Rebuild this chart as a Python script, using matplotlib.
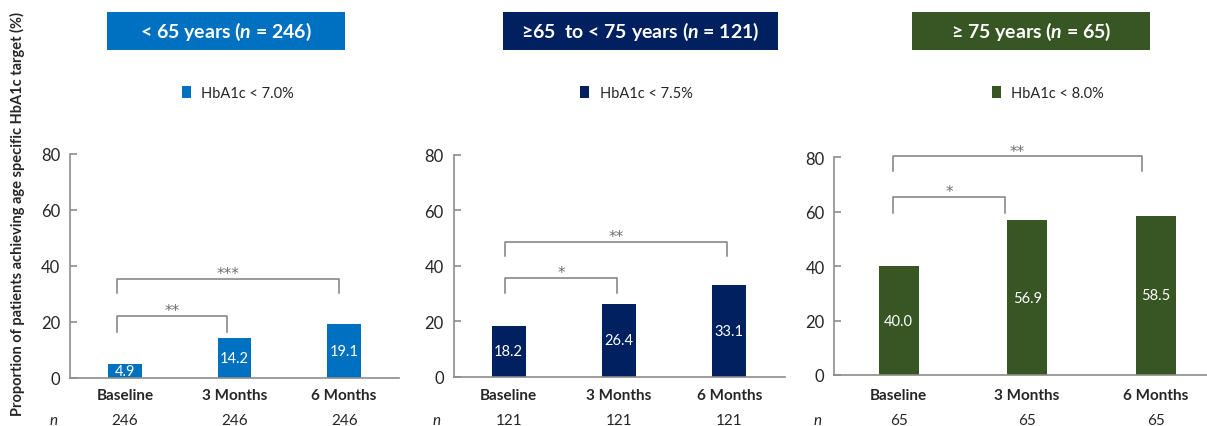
import matplotlib
matplotlib.use("Agg")
import matplotlib.pyplot as plt
import matplotlib.transforms as mtransforms
from matplotlib.patches import Rectangle

plt.rcParams["font.family"] = ["Lato", "DejaVu Sans"]
plt.rcParams["mathtext.fontset"] = "custom"
plt.rcParams["mathtext.rm"] = "Lato:bold"
plt.rcParams["mathtext.bf"] = "Lato:bold"
plt.rcParams["mathtext.it"] = "Lato:italic:bold"

# ---- data -------------------------------------------------------------
timepoints = ["Baseline", "3 Months", "6 Months"]

group_titles = [
    r"< 65 years ($\mathit{n}$ = 246)",
    r"≥65  to < 75 years ($\mathit{n}$ = 121)",
    r"≥ 75 years ($\mathit{n}$ = 65)",
]
target_labels = ["HbA1c < 7.0%", "HbA1c < 7.5%", "HbA1c < 8.0%"]

pct_under65 = [4.9, 14.2, 19.1]
pct_65to75 = [18.2, 26.4, 33.1]
pct_75plus = [40.0, 56.9, 58.5]

n_under65 = [246, 246, 246]
n_65to75 = [121, 121, 121]
n_75plus = [65, 65, 65]

# significance vs. baseline: (label, from index, to index)
sig_under65 = [("**", 0, 1), ("***", 0, 2)]
sig_65to75 = [("*", 0, 1), ("**", 0, 2)]
sig_75plus = [("*", 0, 1), ("**", 0, 2)]

# ---- styling ----------------------------------------------------------
colors = ["#0070C0", "#002060", "#375623"]
text_col = "#262626"
axis_col = "#8C8C8C"
W, H = 1207, 427
fig = plt.figure(figsize=(W / 100, H / 100), dpi=100)


def fx(px):
    return px / W


def fy(py):
    return 1 - py / H


# axes rectangles in pixel coordinates: left, right, y of 0, y of 80
axes_px = [(70, 399, 378.7, 154.7), (453.5, 784.5, 377.7, 156.0), (834.3, 1220, 376.0, 158.3)]
title_px = [(107.3, 344.7), (502.7, 777.7), (912.3, 1150.0)]
legend_px = [181.7, 580.0, 991.7]
# bracket geometry per panel: x offsets of the legs, bracket tops, leg bottoms
bracket_geom = [
    {"x0": -0.07, "x1": [0.93, 1.95], "top": [22.0, 35.2], "leg": [16.3, 30.2]},
    {"x0": -0.03, "x1": [0.98, 1.98], "top": [35.7, 48.5], "leg": [30.1, 43.5]},
    {"x0": -0.04, "x1": [0.83, 1.89], "top": [65.3, 80.3], "leg": [59.5, 75.0]},
]

panels = [
    (pct_under65, n_under65, sig_under65),
    (pct_65to75, n_65to75, sig_65to75),
    (pct_75plus, n_75plus, sig_75plus),
]

for k, (vals, ns, sigs) in enumerate(panels):
    l, r, y0, y80 = axes_px[k]
    ax = fig.add_axes([fx(l), fy(y0), fx(r - l), (y0 - y80) / H])
    ax.set_xlim(-0.5, 2.5)
    ax.set_ylim(0, 80)
    ax.patch.set_alpha(0)

    x = list(range(len(timepoints)))
    bars = ax.bar(x, vals, width=0.31, color=colors[k], label=target_labels[k], zorder=2)
    for xi, v in zip(x, vals):
        ax.text(xi, v / 2, f"{v:.1f}", ha="center", va="center", color="white",
                fontsize=10.5, zorder=3)

    for s in ["top", "right"]:
        ax.spines[s].set_visible(False)
    for s in ["left", "bottom"]:
        ax.spines[s].set_color(axis_col)
        ax.spines[s].set_linewidth(1.2)
    ax.set_yticks([0, 20, 40, 60, 80])
    ax.tick_params(axis="y", direction="in", length=5, width=1.2, color=axis_col,
                   labelsize=12, labelcolor=text_col, pad=7)
    ax.set_xticks([])

    # category and n rows
    blend = mtransforms.blended_transform_factory(ax.transData, fig.transFigure)
    for xi, lab, n in zip(x, timepoints, ns):
        ax.text(xi, fy(396), lab, transform=blend, ha="center", va="center",
                fontsize=11, fontweight="bold", color=text_col)
        ax.text(xi, fy(421), str(n), transform=blend, ha="center", va="center",
                fontsize=11, color=text_col)
    blend_ax = mtransforms.blended_transform_factory(ax.transAxes, fig.transFigure)
    ax.annotate("n", xy=(0, fy(421)), xycoords=blend_ax, xytext=(-12, 0),
                textcoords="offset points", ha="center", va="center",
                fontsize=11, fontstyle="italic", color=text_col)

    # significance brackets
    g = bracket_geom[k]
    for j, (lab, i0, i1) in enumerate(sigs):
        xa = i0 + g["x0"]
        xb = g["x1"][j]
        top, leg = g["top"][j], g["leg"][j]
        ax.plot([xa, xa, xb, xb], [leg, top, top, leg], color="#7F7F7F", lw=1.1,
                clip_on=False, zorder=1)
        ax.text((xa + xb) / 2, top + 0.3, lab, ha="center", va="baseline",
                fontsize=11, family="DejaVu Sans", color="#6E6E6E", clip_on=False)

    # legend above the panel
    ax.legend(handles=[bars], loc="center left",
              bbox_to_anchor=(fx(legend_px[k]), fy(94)), bbox_transform=fig.transFigure,
              frameon=False, fontsize=10.5, handlelength=0.65, handleheight=0.8,
              handletextpad=0.7, borderpad=0, borderaxespad=0, labelcolor=text_col)

    # group title box
    t0, t1 = title_px[k]
    fig.add_artist(Rectangle((fx(t0), fy(51)), fx(t1 - t0), 37.7 / H,
                             transform=fig.transFigure, facecolor=colors[k],
                             edgecolor="none"))
    fig.text(fx((t0 + t1) / 2), fy(32.2), group_titles[k], ha="center", va="center",
             fontsize=14, fontweight="bold", color="white")

fig.text(fx(17), fy(214), "Proportion of patients achieving age specific HbA1c target (%)",
         rotation=90, ha="center", va="center", fontsize=10.5, fontweight="bold",
         color=text_col)

fig.savefig("out.png", dpi=100)
